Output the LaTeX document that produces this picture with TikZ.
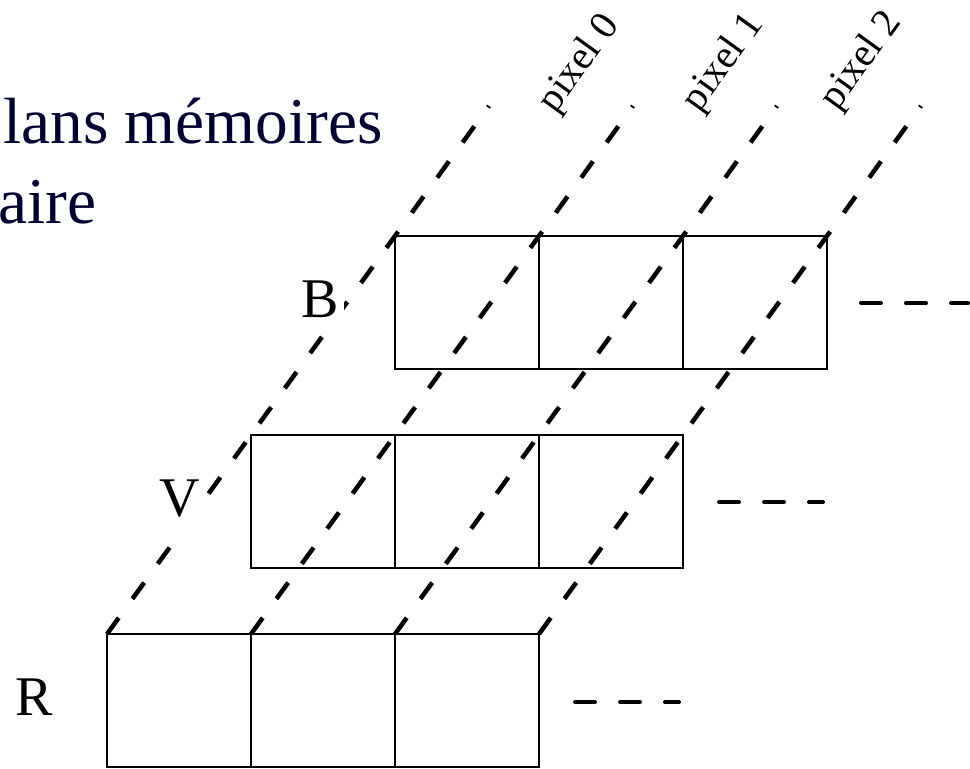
\documentclass[tikz,border=0pt]{standalone}
\usepackage{fontspec}
\setmainfont{Liberation Serif}
\definecolor{titleblue}{HTML}{000033}
\begin{document}
\begin{tikzpicture}[x=0.75pt,y=-0.75pt,
  cell/.style={draw,line width=1.5pt,rectangle,inner sep=0pt,outer sep=0pt,
    minimum width=108pt,minimum height=99.75pt},
  diag/.style={line width=3.4pt,dash pattern=on 15pt off 17.5pt,line cap=butt},
  more/.style={line width=3pt,dash pattern=on 15pt off 18.75pt,line cap=round},
  plane/.style={anchor=base,fill=white,inner sep=4pt,text depth=8pt,font=\fontsize{42}{48}\selectfont},
  pix/.style={rotate=54.1,inner sep=0pt,font=\fontsize{30}{36}\selectfont},
  title/.style={anchor=base west,inner sep=0pt,text=titleblue,font=\fontsize{49}{58}\selectfont}]
\useasboundingbox (0,0) rectangle (970,768);

% three colour planes, three pixels each
\foreach \i/\cx in {0/179,1/323,2/467}{
  \node[cell] (r\i) at (\cx,700.5) {};
  \node[cell] (v\i) at (\cx+144,501.5) {};
  \node[cell] (b\i) at (\cx+288,302.5) {};
}

% free ends of the pixel lines
\coordinate (t0) at (489,106);
\coordinate (t1) at (633,106);
\coordinate (t2) at (777,106);
\coordinate (t3) at (921,106);

% one line per pixel through the three planes
\draw[diag] (r0.north west) -- (t0);
\draw[diag] (r1.north west) -- (t1);
\draw[diag] (r2.north west) -- (t2);
\draw[diag] (r2.north east) -- (t3);

% continuation of each plane
\coordinate (be) at (968,303);
\coordinate (ve) at (823,502);
\coordinate (re) at (679,702);
\draw[more] ([xshift=25.5pt]b2.east |- be) -- (be);
\draw[more] ([xshift=27pt]v2.east |- ve) -- (ve);
\draw[more] ([xshift=27pt]r2.east |- re) -- (re);

% plane names
\node[plane] (lb) at (320,317) {B};
\node[plane] (lv) at (180,516) {V};
\node[plane] (lr) at (34,715) {R};

% pixel names
\node[pix] (p0) at (580,64) {pixel 0};
\node[pix] (p1) at (724,63) {pixel 1};
\node[pix] (p2) at (862,61) {pixel 2};

% heading
\node[title] (h1) at (3,143) {lans mémoires};
\node[title] (h2) at (-2,223) {aire};
\end{tikzpicture}
\end{document}
